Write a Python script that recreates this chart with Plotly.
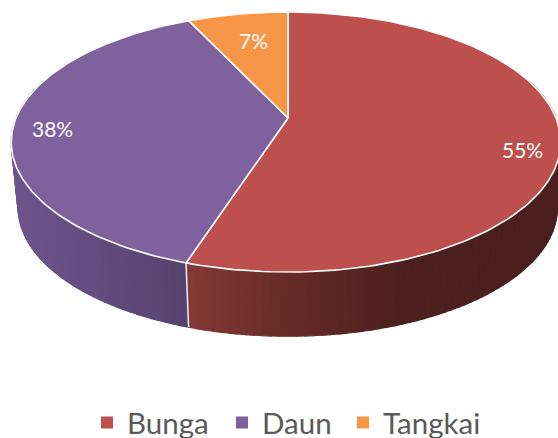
import numpy as np
import plotly.graph_objects as go

categories = ["Bunga", "Daun", "Tangkai"]
values = [55, 38, 7]
labels = ["55%", "38%", "7%"]

top_colors = ["#BD4F4C", "#7F619E", "#F79646"]
# wall shade stops: (screen x, rgb)
wall_stops = [
    [(190, (131, 57, 52)), (280, (104, 44, 41)), (400, (75, 32, 30)), (558, (74, 31, 30))],
    [(15, (110, 85, 140)), (186, (86, 66, 112))],
    [(190, (190, 110, 50)), (290, (190, 110, 50))],
]
label_pos = [(522, 149), (52, 128), (253, 40)]
legend_x = [87, 222, 343]

W, H = 558, 438
CX, CY = 288.0, 118.0
A_RIGHT, A_LEFT, B, K = 268.0, 272.0, 125.6, 0.1847
WALL_DY, WALL_S_RIGHT, WALL_S_LEFT, WALL_S_Y = 66.0, 0.988, 0.975, 0.988


def project(theta, r=1.0, base=False):
    u, v = r * np.sin(theta), r * np.cos(theta)
    d = 1 + K * v
    x, y = np.where(u < 0, A_LEFT, A_RIGHT) * u / d, -B * v / d
    if base:
        sx = np.where(u < 0, WALL_S_LEFT, WALL_S_RIGHT)
        return CX + sx * x, CY + WALL_DY + WALL_S_Y * y
    return CX + x, CY + y


def shade(stops, x):
    xs = [s[0] for s in stops]
    rgb = [np.interp(x, xs, [s[1][i] for s in stops]) for i in range(3)]
    return "rgb(%d,%d,%d)" % tuple(int(round(c)) for c in rgb)


fractions = np.cumsum([0] + values) / sum(values) * 2 * np.pi
fig = go.Figure()

# side wall strips
for i in range(len(values)):
    t0, t1 = fractions[i], fractions[i + 1]
    n = max(2, int((t1 - t0) / np.radians(1.5)))
    edges = np.linspace(t0, t1, n + 1)
    for a, b in zip(edges[:-1], edges[1:]):
        if np.cos((a + b) / 2) > 0.3:
            continue
        xa, ya = project(a)
        xb, yb = project(b)
        xc, yc = project(b, base=True)
        xd, yd = project(a, base=True)
        col = shade(wall_stops[i], float(xa + xb + xc + xd) / 4)
        fig.add_trace(go.Scatter(
            x=[float(xa), float(xb), float(xc), float(xd), float(xa)],
            y=[float(ya), float(yb), float(yc), float(yd), float(ya)],
            mode="lines", fill="toself", fillcolor=col,
            line=dict(color=col, width=1.3),
            showlegend=False, hoverinfo="skip"))

# white seams on the wall
for t in fractions[:-1]:
    if np.cos(t) < 0:
        x0, y0 = project(t)
        x1, y1 = project(t, base=True)
        fig.add_trace(go.Scatter(
            x=[float(x0), float(x1)], y=[float(y0), float(y1)], mode="lines",
            line=dict(color="#F4F0F0", width=1.5),
            showlegend=False, hoverinfo="skip"))

# top faces
for i in range(len(values)):
    th = np.linspace(fractions[i], fractions[i + 1], 160)
    xs, ys = project(th)
    fig.add_trace(go.Scatter(
        x=np.r_[CX, xs, CX], y=np.r_[CY, ys, CY],
        mode="lines", fill="toself", fillcolor=top_colors[i],
        line=dict(color="#FFFFFF", width=1.6),
        showlegend=False, hoverinfo="skip"))

# legend entries, each with its own legend box
legend_ids = ["legend", "legend2", "legend3"]
for name, col, lid in zip(categories, top_colors, legend_ids):
    fig.add_trace(go.Scatter(
        x=[None], y=[None], mode="markers", name=name, legend=lid,
        marker=dict(symbol="square", size=12, color=col)))

for txt, (x, y) in zip(labels, label_pos):
    fig.add_annotation(x=x, y=y, text=txt, showarrow=False,
                       font=dict(family="Lato", size=21, color="#FFFFFF"))

legend_common = dict(
    orientation="h", xanchor="left", y=0.094, yanchor="top",
    font=dict(family="Lato", size=29.5, color="#595959"),
    bgcolor="rgba(0,0,0,0)", itemclick=False, itemdoubleclick=False)

fig.update_layout(
    width=W, height=H,
    margin=dict(l=0, r=0, t=0, b=0, autoexpand=False),
    paper_bgcolor="#FFFFFF", plot_bgcolor="#FFFFFF",
    xaxis=dict(range=[0, W], visible=False, fixedrange=True),
    yaxis=dict(range=[H, 0], visible=False, fixedrange=True),
    legend=dict(x=legend_x[0] / W, **legend_common),
    legend2=dict(x=legend_x[1] / W, **legend_common),
    legend3=dict(x=legend_x[2] / W, **legend_common),
)
fig.write_html("out.html", config={"displayModeBar": False},
               post_script="document.body.style.margin='0';document.body.style.overflow='hidden';")
